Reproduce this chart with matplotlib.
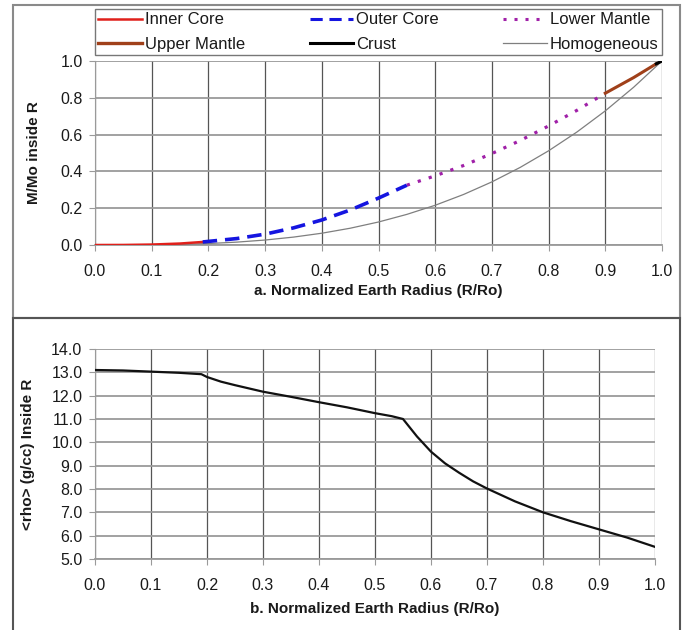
import matplotlib
matplotlib.use("Agg")
import matplotlib.pyplot as plt
from matplotlib.patches import Rectangle
from matplotlib.lines import Line2D

plt.rcParams['font.family'] = ['Liberation Sans', 'DejaVu Sans']

# Mass fraction inside R, by layer
r_inner = [0.0, 0.05, 0.10, 0.15, 0.19]
m_inner = [0.0, 0.0003, 0.0024, 0.008, 0.0165]
r_outer = [0.19, 0.25, 0.30, 0.35, 0.40, 0.45, 0.50, 0.55]
m_outer = [0.0165, 0.035, 0.059, 0.093, 0.136, 0.190, 0.255, 0.325]
r_lower = [0.55, 0.60, 0.65, 0.70, 0.75, 0.80, 0.85, 0.90]
m_lower = [0.325, 0.376, 0.432, 0.497, 0.568, 0.647, 0.732, 0.825]
r_upper = [0.90, 0.95, 0.99]
m_upper = [0.825, 0.91, 0.985]
r_crust = [0.99, 1.0]
m_crust = [0.985, 1.0]
r_homog = [0.0, 0.05, 0.1, 0.15, 0.2, 0.25, 0.3, 0.35, 0.4, 0.45, 0.5, 0.55, 0.6,
           0.65, 0.7, 0.75, 0.8, 0.85, 0.9, 0.95, 1.0]
m_homog = [0.0, 0.0001, 0.001, 0.0034, 0.008, 0.0156, 0.027, 0.0429, 0.064, 0.0911,
           0.125, 0.1664, 0.216, 0.2746, 0.343, 0.4219, 0.512, 0.6141, 0.729, 0.8574, 1.0]

# Mean density inside R
r_rho = [0.0, 0.05, 0.10, 0.15, 0.19, 0.20, 0.225, 0.25, 0.30, 0.35, 0.40, 0.45, 0.50,
         0.53, 0.55, 0.56, 0.575, 0.60, 0.625, 0.65, 0.675, 0.70, 0.75, 0.80, 0.85,
         0.90, 0.95, 1.0]
rho = [13.1, 13.08, 13.03, 12.98, 12.92, 12.8, 12.6, 12.45, 12.17, 11.95, 11.72, 11.5,
       11.25, 11.12, 11.0, 10.7, 10.25, 9.6, 9.1, 8.7, 8.33, 8.02, 7.47, 7.0, 6.62,
       6.27, 5.92, 5.52]

xticks = [0.0, 0.1, 0.2, 0.3, 0.4, 0.5, 0.6, 0.7, 0.8, 0.9, 1.0]
yticks_top = [0.0, 0.2, 0.4, 0.6, 0.8, 1.0]
yticks_bot = [5.0, 6.0, 7.0, 8.0, 9.0, 10.0, 11.0, 12.0, 13.0, 14.0]

W, H = 691, 630
fig = plt.figure(figsize=(W / 100, H / 100), dpi=100)

def fx(px):
    return px / W

def fy(py):
    return 1 - py / H

# panel borders
fig.patches.append(Rectangle((fx(13), fy(318)), fx(680) - fx(13), fy(5) - fy(318),
                             transform=fig.transFigure, fill=False, ec='#8a8a8a', lw=1.5))
fig.patches.append(Rectangle((fx(13), fy(632)), fx(680) - fx(13), fy(318) - fy(632),
                             transform=fig.transFigure, fill=False, ec='#555555', lw=1.5))

ax1 = fig.add_axes([fx(95), fy(245), fx(662) - fx(95), fy(61) - fy(245)])
ax2 = fig.add_axes([fx(95), fy(559), fx(655) - fx(95), fy(349) - fy(559)])

tick_fs = 11.5
txt_col = '#1a1a1a'
for ax in (ax1, ax2):
    ax.set_xlim(0, 1.0)
    ax.set_xticks(xticks)
    ax.set_xticklabels([f"{t:.1f}" for t in xticks], fontsize=tick_fs, color=txt_col)
    ax.grid(axis='x', color='#555555', lw=0.9)
    ax.grid(axis='y', color='#9a9a9a', lw=1.3)
    ax.set_axisbelow(True)
    for s in ('top', 'right'):
        ax.spines[s].set_visible(False)
    ax.spines['left'].set_color('#9a9a9a')
    ax.spines['bottom'].set_color('#9a9a9a')
    ax.spines['bottom'].set_linewidth(1.3)
    ax.tick_params(axis='x', length=4, color='#9a9a9a', pad=10)
    ax.tick_params(axis='y', length=4, color='#9a9a9a', pad=5)

ax1.set_ylim(0, 1.0)
ax1.set_yticks(yticks_top)
ax1.set_yticklabels([f"{t:.1f}" for t in yticks_top], fontsize=tick_fs, color=txt_col)
ax2.set_ylim(5, 14)
ax2.set_yticks(yticks_bot)
ax2.set_yticklabels([f"{t:.1f}" for t in yticks_bot], fontsize=tick_fs, color=txt_col)

ax1.plot(r_homog, m_homog, color='#7f7f7f', lw=0.9, zorder=3)
ax1.plot(r_inner, m_inner, color='#e0201b', lw=1.8, zorder=4)
ax1.plot(r_outer, m_outer, color='#1515e0', lw=2.6, ls=(0, (4, 2.2)), zorder=4)
ax1.plot(r_lower, m_lower, color='#a020a8', lw=2.3, ls=(0, (1, 2.6)), zorder=4)
ax1.plot(r_upper, m_upper, color='#a0401a', lw=2.2, zorder=4)
ax1.plot(r_crust, m_crust, color='black', lw=2.2, zorder=5)

ax2.plot(r_rho, rho, color='#111111', lw=1.6, zorder=4)

lab_kw = dict(fontsize=11, fontweight='bold', color=txt_col)
ax1.set_xlabel("a. Normalized Earth Radius (R/Ro)", labelpad=3, **lab_kw)
ax1.set_ylabel("M/Mo inside R", labelpad=14, **lab_kw)
ax2.set_xlabel("b. Normalized Earth Radius (R/Ro)", labelpad=6, **lab_kw)
ax2.set_ylabel("<rho> (g/cc) Inside R", labelpad=12, **lab_kw)

handles = [
    Line2D([], [], color='#e0201b', lw=1.8),
    Line2D([], [], color='#a0401a', lw=2.4),
    Line2D([], [], color='#1515e0', lw=2.2, ls=(0, (4, 2.2))),
    Line2D([], [], color='black', lw=2.2),
    Line2D([], [], color='#a020a8', lw=2.2, ls=(0, (1, 2.6))),
    Line2D([], [], color='#7f7f7f', lw=0.9),
]
labels = ["Inner Core", "Upper Mantle", "Outer Core", "Crust", "Lower Mantle", "Homogeneous"]
leg = fig.legend(handles, labels, ncol=3, loc='center',
                 bbox_to_anchor=(fx(95), fy(56), fx(662) - fx(95), fy(8) - fy(56)),
                 bbox_transform=fig.transFigure, mode='expand', frameon=True,
                 fancybox=False, edgecolor='#555555', fontsize=12,
                 handlelength=2.6, handletextpad=0.2, borderpad=0.2,
                 labelspacing=0.55, columnspacing=1.0, borderaxespad=0)
leg.get_frame().set_linewidth(1.0)
for t in leg.get_texts():
    t.set_color(txt_col)

fig.savefig("out.png", dpi=100, facecolor='white')
